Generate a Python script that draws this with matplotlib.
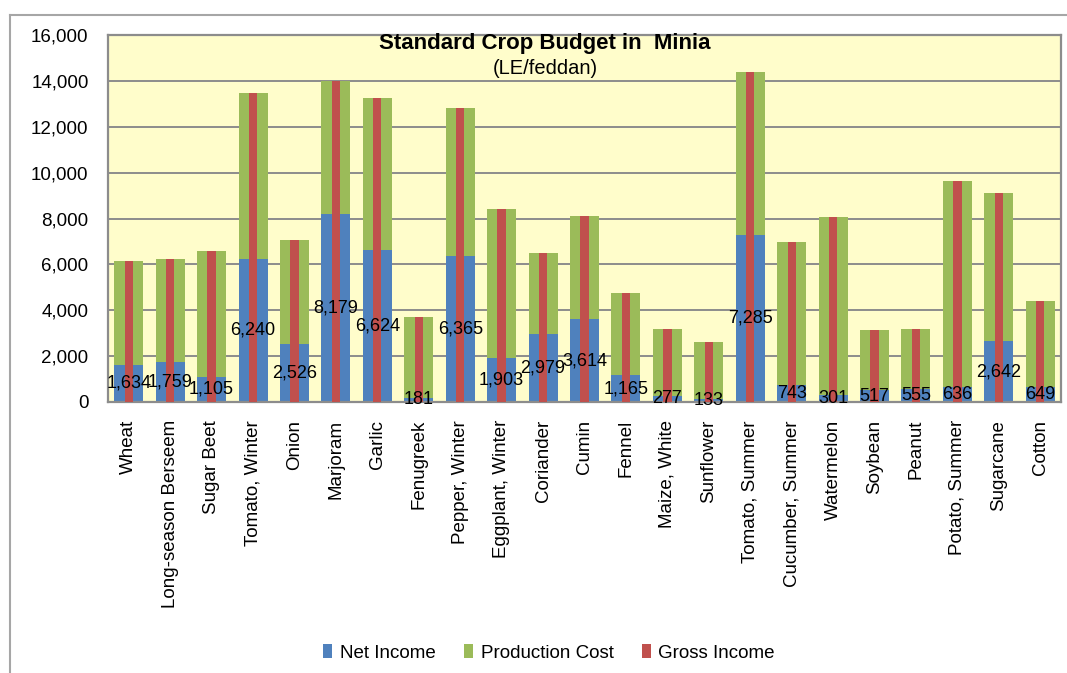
import matplotlib.pyplot as plt
from matplotlib.lines import Line2D
import numpy as np

plt.rcParams['font.family'] = ['Liberation Sans', 'DejaVu Sans']

crops = ["Wheat", "Long-season Berseem", "Sugar Beet", "Tomato, Winter", "Onion",
         "Marjoram", "Garlic", "Fenugreek", "Pepper, Winter", "Eggplant, Winter",
         "Coriander", "Cumin", "Fennel", "Maize, White", "Sunflower",
         "Tomato, Summer", "Cucumber, Summer", "Watermelon", "Soybean", "Peanut",
         "Potato, Summer", "Sugarcane", "Cotton"]
net_income = [1634, 1759, 1105, 6240, 2526, 8179, 6624, 181, 6365, 1903,
              2979, 3614, 1165, 277, 133, 7285, 743, 301, 517, 555,
              636, 2642, 649]
production_cost = [4526, 4476, 5495, 7250, 4539, 5831, 6616, 3519, 6435, 6530,
                   3505, 4500, 3598, 2913, 2476, 7108, 6235, 7756, 2616, 2635,
                   9008, 6491, 3738]

# gross income = net income + production cost
gross_income = [n + c for n, c in zip(net_income, production_cost)]

blue = "#4F81BD"
green = "#9BBB59"
red = "#C0504D"
grid_gray = "#8C8C8C"

fig = plt.figure(figsize=(10.67, 6.73), dpi=100)
ax = fig.add_axes([108 / 1067, 1 - 402 / 673, (1061 - 108) / 1067, (402 - 35) / 673])
ax.set_facecolor("#FFFDCB")

x = np.arange(len(crops))
ax.bar(x, net_income, width=0.7, color=blue, zorder=2, label="Net Income")
ax.bar(x, production_cost, width=0.7, bottom=net_income, color=green, zorder=2,
       label="Production Cost")
ax.bar(x, gross_income, width=0.2, color=red, zorder=3, label="Gross Income")

# net income values in the middle of the blue segment
for xi, v in zip(x, net_income):
    ax.text(xi, v / 2, f"{v:,}", ha="center", va="center", fontsize=13, zorder=5)

ax.set_xlim(-0.5, len(crops) - 0.5)
ax.set_ylim(0, 16000)
ax.set_yticks(range(0, 16001, 2000))
ax.set_yticklabels([f"{t:,}" for t in range(0, 16001, 2000)])
ax.yaxis.grid(True, color=grid_gray, linewidth=1.4, zorder=1)
ax.set_axisbelow(True)
ax.tick_params(axis="y", length=0, pad=14, labelsize=13.5)
ax.set_xticks(x)
ax.set_xticklabels(crops, rotation=90, fontsize=13.5)
ax.tick_params(axis="x", length=0, pad=13)
for s in ax.spines.values():
    s.set_color(grid_gray)
    s.set_linewidth(1.6)

fig.text(545 / 1067, 1 - 43 / 673, "Standard Crop Budget in  Minia", ha="center",
         va="center", fontsize=16, fontweight="bold")
fig.text(545 / 1067, 1 - 68 / 673, "(LE/feddan)", ha="center", va="center", fontsize=14.5)

fig.legend(loc="center", bbox_to_anchor=(549 / 1067, 1 - 653 / 673), ncol=3,
           frameon=False, fontsize=13.5, handlelength=0.5, handleheight=0.7,
           handletextpad=0.4, columnspacing=1.5)

# outer chart frame
top = 1 - 15 / 673
left = 10 / 1067
fig.add_artist(Line2D([left, 1], [top, top], color="#A6A6A6", linewidth=1.5))
fig.add_artist(Line2D([left, left], [0, top], color="#A6A6A6", linewidth=1.5))

fig.savefig("out.png", dpi=100)
